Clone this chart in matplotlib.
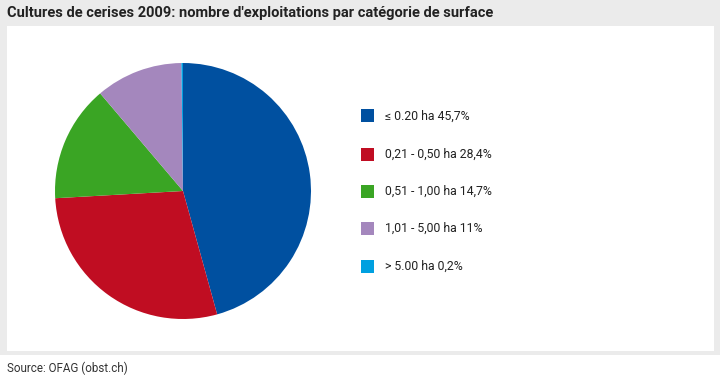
import matplotlib.pyplot as plt
from matplotlib.patches import Rectangle

# data
labels = ['≤ 0.20 ha 45,7%', '0,21 - 0,50 ha 28,4%', '0,51 - 1,00 ha 14,7%',
          '1,01 - 5,00 ha 11%', '> 5.00 ha 0,2%']
shares = [45.7, 28.4, 14.7, 11.0, 0.2]
colors = ['#0050a0', '#c00d22', '#3aa524', '#a487bd', '#00a0e0']

plt.rcParams['font.family'] = ['Roboto', 'DejaVu Sans']

W, H = 720, 377
fig = plt.figure(figsize=(W / 100, H / 100), dpi=100)
fig.patch.set_facecolor('white')

# gray frame and white panel (pixel coords -> figure fraction)
def box(x0, y0, x1, y1, color, z=-2):
    fig.patches.append(Rectangle((x0 / W, 1 - y1 / H), (x1 - x0) / W, (y1 - y0) / H,
                                 transform=fig.transFigure, facecolor=color,
                                 edgecolor='none', zorder=z))

box(0, 0, 720, 355, '#ebebeb')
box(7, 26, 714, 351, 'white', z=-1)

fig.text(7 / W, 1 - 13 / H, "Cultures de cerises 2009: nombre d'exploitations par catégorie de surface",
         fontsize=10.5, fontweight='bold', color='#222222', va='center', ha='left')
fig.text(7 / W, 1 - 368 / H, 'Source: OFAG (obst.ch)', fontsize=8.4, color='#333333',
         va='center', ha='left')

# pie
cx, cy, r = 183, 191, 128
ax = fig.add_axes([(cx - r) / W, 1 - (cy + r) / H, 2 * r / W, 2 * r / H])
ax.set_zorder(2)
ax.pie(shares, colors=colors, startangle=90, counterclock=False,
       wedgeprops=dict(linewidth=0))
ax.set_xlim(-1, 1)
ax.set_ylim(-1, 1)
ax.set_aspect('equal')
ax.axis('off')

# legend
ys = [116, 154, 191, 228, 266]
for lab, col, y in zip(labels, colors, ys):
    box(361, y - 6.5, 374, y + 6.5, col, z=1)
    fig.text(385 / W, 1 - y / H, lab, fontsize=8.8, color='#222222', va='center', ha='left')

fig.savefig('out.png', dpi=100)
